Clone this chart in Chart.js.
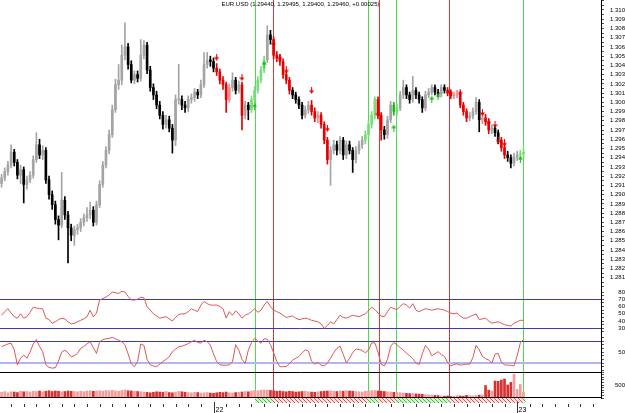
<!DOCTYPE html>
<html><head><meta charset="utf-8"><title>EUR.USD</title>
<script src="https://cdn.jsdelivr.net/npm/chart.js@4.4.1/dist/chart.umd.min.js"></script>
<style>
html,body{margin:0;padding:0;background:#fff;overflow:hidden}
#wrap{position:relative;width:625px;height:413px;background:#fff}
.pane{position:absolute;left:0;width:625px}
#title{position:absolute;left:0;top:1px;width:601px;text-align:center;font-family:"Liberation Sans",Arial,sans-serif;font-size:6px;line-height:7px;color:#000;white-space:nowrap;z-index:5}
</style></head><body>
<div id="wrap">
 <div class="pane" style="top:0;height:291px"><canvas id="cPrice"></canvas></div>
 <div class="pane" style="top:286px;height:49px"><canvas id="cRsi"></canvas></div>
 <div class="pane" style="top:335px;height:37px"><canvas id="cSto"></canvas></div>
 <div class="pane" style="top:372px;height:41px"><canvas id="cVol"></canvas></div>
 <div id="title">EUR.USD (1.29440, 1.29495, 1.29400, 1.29460, +0.00025)</div>
</div>
<script>
// ---------------- DATA ----------------
const SLOTS = 190;                 // 15-minute slots on the time axis
const START = {day: 21, hour: 7, minute: 15};

const opens = [
1.2912,1.2918,1.2925,1.2932,1.2946,1.2935,1.2921,1.2927,1.2911,1.2916,
1.2921,1.2938,1.2954,1.2943,1.2948,1.2916,1.2900,1.2889,1.2873,1.2867,
1.2894,1.2878,1.2864,1.2856,1.2862,1.2864,1.2870,1.2875,1.2878,1.2883,
1.2870,1.2889,1.2911,1.2932,1.2948,1.2965,1.2992,1.3019,1.3024,1.3051,
1.3060,1.3041,1.3024,1.3030,1.3026,1.3051,1.3062,1.3035,1.3016,1.3008,
1.2997,1.2986,1.2976,1.2981,1.2972,1.2959,1.3003,1.3003,1.2997,1.2994,
1.3003,1.3005,1.3011,1.3008,1.3019,1.3041,1.3046,1.3044,1.3037,1.3033,
1.3024,1.3019,1.3003,1.3016,1.3024,1.3013,1.3019,1.2986,1.2997,1.2992,
1.3003,1.3013,1.3024,1.3035,1.3046,1.3073,1.3068,1.3051,1.3048,1.3044,
1.3030,1.3024,1.3013,1.3008,1.3003,1.2997,1.2986,1.2992,1.2997,1.2990,
1.2983,1.2986,1.2976,1.2959,1.2938,1.2948,1.2954,1.2948,1.2959,1.2943,
1.2954,1.2948,1.2938,1.2948,1.2954,1.2959,1.2965,1.2976,1.2986,1.3003,
1.2986,1.2970,1.2965,1.2981,1.2997,1.2990,1.2994,1.3008,1.3016,1.3008,
1.3003,1.3013,1.3008,1.3003,1.2994,1.3008,1.3011,1.3016,1.3011,1.3009,
1.3016,1.3013,1.3010,1.3007,1.3008,1.3009,1.2997,1.2990,1.2983,1.2985,
1.2990,1.3000,1.2981,1.2983,1.2979,1.2970,1.2972,1.2967,1.2959,1.2951,
1.2943,1.2940,1.2934,1.2941,1.2943,1.2944];

const highs = [
1.2922,1.2929,1.2936,1.2954,1.2949,1.2938,1.2932,1.2930,1.2920,1.2925,
1.2942,1.2967,1.2960,1.2953,1.2951,1.2920,1.2904,1.2893,1.2877,1.2924,
1.2898,1.2882,1.2868,1.2866,1.2868,1.2874,1.2879,1.2886,1.2892,1.2887,
1.2893,1.2915,1.2936,1.2952,1.2970,1.2997,1.3025,1.3041,1.3062,1.3086,
1.3064,1.3045,1.3034,1.3034,1.3068,1.3067,1.3065,1.3039,1.3020,1.3012,
1.3001,1.2990,1.2986,1.2985,1.2976,1.3008,1.3041,1.3007,1.3001,1.3007,
1.3009,1.3015,1.3014,1.3024,1.3054,1.3054,1.3050,1.3048,1.3042,1.3036,
1.3028,1.3022,1.3020,1.3032,1.3027,1.3023,1.3022,1.3001,1.3000,1.3007,
1.3017,1.3028,1.3039,1.3050,1.3083,1.3078,1.3071,1.3055,1.3052,1.3047,
1.3033,1.3027,1.3016,1.3011,1.3006,1.3000,1.2996,1.3001,1.3002,1.2994,
1.2990,1.2989,1.2979,1.2962,1.2952,1.2959,1.2958,1.2963,1.2962,1.2958,
1.2958,1.2951,1.2952,1.2958,1.2963,1.2969,1.2980,1.2990,1.3006,1.3006,
1.2989,1.2974,1.2985,1.3001,1.3000,1.2998,1.3012,1.3024,1.3019,1.3011,
1.3028,1.3016,1.3011,1.3006,1.3012,1.3015,1.3019,1.3019,1.3014,1.3019,
1.3019,1.3016,1.3013,1.3011,1.3013,1.3012,1.3000,1.2993,1.2989,1.2994,
1.3005,1.3003,1.2987,1.2987,1.2982,1.2976,1.2975,1.2970,1.2962,1.2954,
1.2947,1.2943,1.2945,1.2947,1.2948,1.29495];

const lows = [
1.2908,1.2915,1.2921,1.2929,1.2931,1.2917,1.2912,1.2891,1.2906,1.2913,
1.2918,1.2935,1.2939,1.2938,1.2912,1.2895,1.2884,1.2868,1.2851,1.2864,
1.2873,1.2826,1.2850,1.2845,1.2857,1.2860,1.2866,1.2871,1.2874,1.2866,
1.2867,1.2886,1.2908,1.2929,1.2944,1.2962,1.2989,1.3014,1.3019,1.3046,
1.3036,1.3021,1.3020,1.3022,1.3023,1.3047,1.3031,1.3012,1.3003,1.2993,
1.2982,1.2971,1.2972,1.2968,1.2945,1.2953,1.2998,1.2992,1.2989,1.2990,
1.2999,1.3001,1.3004,1.3005,1.3016,1.3037,1.3039,1.3033,1.3029,1.3020,
1.3014,1.2989,1.3000,1.3012,1.3009,1.3010,1.2970,1.2982,1.2981,1.2989,
1.2999,1.3010,1.3021,1.3032,1.3043,1.3063,1.3047,1.3044,1.3040,1.3026,
1.3020,1.3009,1.3004,1.2999,1.2993,1.2982,1.2983,1.2988,1.2986,1.2979,
1.2978,1.2972,1.2955,1.2933,1.2910,1.2944,1.2943,1.2944,1.2938,1.2939,
1.2944,1.2924,1.2934,1.2944,1.2950,1.2955,1.2961,1.2972,1.2982,1.2982,
1.2959,1.2960,1.2961,1.2978,1.2986,1.2986,1.2991,1.3004,1.3004,1.2999,
1.3000,1.3004,1.2999,1.2989,1.2991,1.3005,1.3008,1.3008,1.3006,1.3006,
1.3010,1.3007,1.3004,1.3004,1.3005,1.2994,1.2986,1.2979,1.2980,1.2982,
1.2987,1.2968,1.2977,1.2975,1.2966,1.2966,1.2963,1.2955,1.2947,1.2939,
1.2936,1.2929,1.2931,1.2937,1.2938,1.2940];

const closes = [
1.2918,1.2925,1.2932,1.2946,1.2935,1.2921,1.2927,1.2911,1.2916,1.2921,
1.2938,1.2954,1.2943,1.2948,1.2916,1.2900,1.2889,1.2873,1.2867,1.2894,
1.2878,1.2864,1.2856,1.2862,1.2864,1.2870,1.2875,1.2878,1.2883,1.2870,
1.2889,1.2911,1.2932,1.2948,1.2965,1.2992,1.3019,1.3024,1.3051,1.3060,
1.3041,1.3024,1.3030,1.3026,1.3051,1.3062,1.3035,1.3016,1.3008,1.2997,
1.2986,1.2976,1.2981,1.2972,1.2959,1.3003,1.3003,1.2997,1.2994,1.3003,
1.3005,1.3011,1.3008,1.3019,1.3041,1.3046,1.3044,1.3037,1.3033,1.3024,
1.3019,1.3003,1.3016,1.3024,1.3013,1.3019,1.2986,1.2997,1.2992,1.3003,
1.3013,1.3024,1.3035,1.3046,1.3073,1.3068,1.3051,1.3048,1.3044,1.3030,
1.3024,1.3013,1.3008,1.3003,1.2997,1.2986,1.2992,1.2997,1.2990,1.2983,
1.2986,1.2976,1.2959,1.2938,1.2948,1.2954,1.2948,1.2959,1.2943,1.2954,
1.2948,1.2938,1.2948,1.2954,1.2959,1.2965,1.2976,1.2986,1.3003,1.2986,
1.2970,1.2965,1.2981,1.2997,1.2990,1.2994,1.3008,1.3016,1.3008,1.3003,
1.3013,1.3008,1.3003,1.2994,1.3008,1.3011,1.3016,1.3011,1.3009,1.3016,
1.3013,1.3010,1.3007,1.3008,1.3009,1.2997,1.2990,1.2983,1.2985,1.2990,
1.3000,1.2981,1.2983,1.2979,1.2970,1.2972,1.2967,1.2959,1.2951,1.2943,
1.2940,1.2934,1.2941,1.2943,1.29435,1.2946];

const rsi = [
48,53,57,51,46,44,50,44,46,52,
59,58,57,57,44,42,37,39,42,44,
43,39,36,37,39,41,43,46,55,46,
51,69,71,73,76,80,79,78,81,80,
74,69,69,70,73,72,60,55,50,47,
44,45,46,43,40,45,49,50,50,53,
57,55,53,62,67,64,62,62,62,60,
57,44,53,48,54,50,44,48,50,53,
57,52,55,62,67,60,55,53,51,48,
45,46,47,44,42,43,44,43,41,40,
39,36,30,34,39,36,42,48,45,44,
46,48,47,46,48,50,54,59,56,51,
47,46,53,59,57,56,60,64,62,58,
64,55,53,55,57,56,55,56,57,56,
55,53,51,50,51,47,44,44,46,48,
50,42,43,44,40,37,38,39,37,35,
34,33,37,39,41,41];

const stoch = [
65,68,72,74,56,15,33,42,33,50,
72,84,65,51,15,8,6,7,25,50,
55,48,37,40,46,60,65,72,78,62,
46,78,84,86,87,90,86,82,78,70,
45,18,10,24,72,68,30,15,12,10,
17,24,30,37,51,58,64,66,69,73,
78,82,76,74,82,78,69,45,24,15,
14,14,15,23,70,55,30,19,55,75,
87,80,74,86,85,70,48,24,10,10,
10,18,28,33,38,47,56,53,25,17,
22,14,12,20,33,48,60,66,44,20,
33,48,58,57,54,48,55,75,75,50,
17,12,30,65,76,70,62,55,47,40,
32,20,16,45,68,58,40,45,51,43,
38,22,12,16,18,14,16,17,17,35,
68,56,38,32,28,20,44,46,22,15,
14,14,12,40,75,84];

const volume = [
220,250,200,240,230,210,260,240,250,230,
260,250,270,240,260,280,250,270,260,240,
250,270,260,250,240,260,250,270,280,260,
270,280,260,290,280,300,270,260,290,310,
280,270,260,250,240,230,220,200,220,240,
230,220,250,210,200,230,250,240,220,210,
200,220,210,190,200,210,190,180,200,220,
210,230,200,190,210,220,230,250,240,270,
290,280,300,310,300,290,280,260,270,250,
240,260,250,230,240,250,260,240,230,220,
240,250,260,270,280,260,250,270,260,280,
270,260,250,240,230,260,270,280,290,270,
260,250,240,230,220,210,200,190,180,170,
170,160,150,140,130,120,110,100,90,80,
70,80,60,70,90,80,70,100,90,80,
100,110,120,480,300,270,650,640,690,730,
500,600,910,330,520,230];

// signal regimes (bar index ranges) and signal markers
const sellZones = [[68,72],[76,76],[86,91],[98,103],[119,120],[141,147],[152,154],[158,159]];
const buyZones  = [[79,83],[115,118],[124,125],[164,165]];
const sellArrowBars   = [68,76,86,88,90,98,103,119,142,145,152,154,156,157,159];
const sellArrowPrices = [1.3049,1.3027,1.3064,1.3049,1.3035,1.3013,1.2972,1.2988,1.3011,1.3011,1.2989,1.2979,1.2976,1.2959,1.2956];
const buyArrowBars    = [80,83,124,136,138,164];
const buyArrowPrices  = [1.2995,1.3041,1.2972,1.3003,1.3006,1.2938];
// signal lines: bar position and direction
const signalAt   = [80.1, 85.8, 115.8, 119.2, 124.6, 141.6, 164.8];
const signalType = ['buy','sell','buy','sell','buy','sell','buy'];

// time categories
const timeLabels = [];
for (let i = 0; i < SLOTS; i++) {
  const m = START.hour*60 + START.minute + 15*i;
  const d = START.day + Math.floor(m/1440), mm = m % 1440;
  timeLabels.push(d + ' ' + String(Math.floor(mm/60)).padStart(2,'0') + ':' + String(mm%60).padStart(2,'0'));
}

// ---------------- STYLE ----------------
const FONT = 'Liberation Sans';
const palette = {'': {up:'#a4a4a4', down:'#000000'}, s:{up:'#f08c8c', down:'#e80000'}, b:{up:'#78dc78', down:'#10c010'}};
function zoneOf(i){
  for (const [a,b] of sellZones) if (i>=a && i<=b) return 's';
  for (const [a,b] of buyZones) if (i>=a && i<=b) return 'b';
  return '';
}
function candleColor(i){ const z = zoneOf(i); return closes[i] >= opens[i] ? palette[z].up : palette[z].down; }
const SIG_COL = {buy:'#4cdc4c', sell:'#d43c3c'};
const LEVEL_BLUE = '#3c3cac';

function arrowImage(color, up){
  const c = document.createElement('canvas'); c.width = 5; c.height = 7;
  const g = c.getContext('2d'); g.fillStyle = color;
  if (up) { g.beginPath(); g.moveTo(2.5,0); g.lineTo(5,3.5); g.lineTo(0,3.5); g.closePath(); g.fill(); g.fillRect(2,3,1,4); }
  else { g.fillRect(2,0,1,4); g.beginPath(); g.moveTo(0,3.5); g.lineTo(5,3.5); g.lineTo(2.5,7); g.closePath(); g.fill(); }
  return c;
}
function sparse(bars, vals){ const a = new Array(closes.length).fill(null); bars.forEach((b,k)=>{ a[b] = vals[k]; }); return a; }

function xScale(){ return {type:'category', labels: timeLabels, display:false, offset:true, grid:{display:false}}; }
function rightAxis(min, max, step, labelFn, pad){
  return {type:'linear', position:'right', min, max,
    afterBuildTicks(s){ s.ticks = s.ticks.filter(t => Math.abs(t.value/step - Math.round(t.value/step)) < 1e-6); },
    afterFit(s){ s.width = 24; s.paddingTop = 0; s.paddingBottom = 0; },
    border:{display:true, color:'#000', width:1},
    grid:{display:true, drawOnChartArea:false, drawTicks:true, tickLength:3, tickColor:'#555', tickWidth:1},
    ticks:{stepSize: step, includeBounds:false, autoSkip:false, padding: pad, crossAlign:'far', color:'#000',
      font:{family: FONT, size:6}, callback: labelFn, maxRotation:0, minRotation:0}};
}
function strokeLine(ctx, color, width, x0, y0, x1, y1){
  ctx.save(); ctx.globalAlpha = 1; ctx.setLineDash([]); ctx.strokeStyle = color; ctx.lineWidth = width;
  ctx.beginPath(); ctx.moveTo(x0, y0); ctx.lineTo(x1, y1); ctx.stroke(); ctx.restore();
}
const signalPlugin = {id:'signals', beforeDatasetsDraw(chart){
  const {ctx, chartArea:ca, scales:{x}} = chart;
  signalAt.forEach((v,k)=>{ const px = Math.round(x.getPixelForValue(v)) + 0.5;
    strokeLine(ctx, SIG_COL[signalType[k]], 1, px, ca.top, px, ca.bottom); });
}};
const hlinePlugin = {id:'hlines', beforeDatasetsDraw(chart, args, opts){
  const {ctx, chartArea:ca, scales:{y}} = chart;
  (opts.lines||[]).forEach(l=>{ const py = Math.round(y.getPixelForValue(l.value)) + (l.width%2 ? 0.5 : 0);
    strokeLine(ctx, l.color, l.width, ca.left, py, ca.right, py); });
}};
function hatch(color){
  const c = document.createElement('canvas'); c.width = 4; c.height = 4;
  const g = c.getContext('2d'); g.strokeStyle = color; g.lineWidth = 1;
  g.beginPath(); g.moveTo(0,0); g.lineTo(4,4); g.stroke();
  return c;
}
const timeAxisPlugin = {id:'timeAxis', afterDraw(chart){
  const {ctx, chartArea:ca, scales:{x}} = chart;
  strokeLine(ctx, '#000', 1, ca.left, ca.top+0.5, ca.right, ca.top+0.5);
  strokeLine(ctx, '#000', 1, ca.left, ca.bottom-0.5, ca.right, ca.bottom-0.5);
  ctx.save();
  // regime band
  const pats = {buy: ctx.createPattern(hatch('#3cc03c'),'repeat'), sell: ctx.createPattern(hatch('#e05050'),'repeat')};
  signalAt.forEach((v,k)=>{
    const x0 = x.getPixelForValue(v);
    const x1 = k+1 < signalAt.length ? x.getPixelForValue(signalAt[k+1]) : x.getPixelForValue(closes.length-1) + 2;
    ctx.fillStyle = pats[signalType[k]]; ctx.fillRect(x0, ca.bottom, x1-x0, 5);
    ctx.fillStyle = signalType[k]==='buy' ? 'rgba(60,192,60,0.2)' : 'rgba(224,80,80,0.15)'; ctx.fillRect(x0, ca.bottom, x1-x0, 5);
  });
  ctx.restore();
  // hour ticks and day marks
  ctx.save();
  ctx.fillStyle = '#000'; ctx.font = '7px "' + FONT + '"'; ctx.textBaseline = 'alphabetic';
  timeLabels.forEach((lab,i)=>{
    const px = Math.round(x.getPixelForValue(i)) + 0.5;
    if (lab.endsWith('00:00')) {
      strokeLine(ctx, '#333', 1, px, ca.bottom+4, px, ca.bottom+15);
      ctx.fillText(lab.slice(0,2), px+1, ca.bottom+14);
    } else if (lab.endsWith(':00')) {
      strokeLine(ctx, '#333', 1, px, ca.bottom+6, px, ca.bottom+9);
    }
  });
  ctx.restore();
}};

const baseOpts = (extra) => Object.assign({animation:false, responsive:true, maintainAspectRatio:false,
  layout:{padding:0, autoPadding:false}, events:[]}, extra);

// ---------------- PRICE ----------------
new Chart(document.getElementById('cPrice'), {
  type:'bar',
  data:{labels: timeLabels, datasets:[
    {label:'wick', data: lows.map((l,i)=>[l, highs[i]]), backgroundColor: c=>candleColor(c.dataIndex), barThickness:1, grouped:false, order:3},
    {label:'body', data: opens.map((o,i)=>[o, closes[i]]), backgroundColor: c=>candleColor(c.dataIndex), barThickness:2, minBarLength:1, grouped:false, order:2},
    {type:'line', label:'sell', data: sparse(sellArrowBars, sellArrowPrices), showLine:false, pointStyle: arrowImage('#e00000', false), pointRadius:3, order:1},
    {type:'line', label:'buy', data: sparse(buyArrowBars, buyArrowPrices), showLine:false, pointStyle: arrowImage('#10c010', true), pointRadius:3, order:1}
  ]},
  options: baseOpts({plugins:{legend:{display:false}, tooltip:{enabled:false}},
    scales:{x: xScale(), y: rightAxis(1.279559, 1.311083, 0.0005,
      v => { const k = Math.round(v*1000); return (Math.abs(v*1000-k) < 1e-6 && k>=1281 && k<=1310) ? (k/1000).toFixed(3) : ''; }, 3)}}),
  plugins:[signalPlugin]
});

// ---------------- RSI ----------------
new Chart(document.getElementById('cRsi'), {
  type:'line',
  data:{labels: timeLabels, datasets:[{label:'RSI', data: rsi, borderColor:'#e05656', borderWidth:1, pointRadius:0, tension:0}]},
  options: baseOpts({layout:{padding:{top:5, bottom:0, left:0, right:0}, autoPadding:false},
    plugins:{legend:{display:false}, tooltip:{enabled:false}, hlines:{lines:[{value:70,color:LEVEL_BLUE,width:1},{value:30,color:LEVEL_BLUE,width:1}]}},
    scales:{x: xScale(), y: rightAxis(20.8, 81.4, 5, v => { const k = Math.round(v); return (k%10===0 && k>=30 && k<=80) ? String(k) : ''; }, 11)}}),
  plugins:[signalPlugin, hlinePlugin]
});

// ---------------- STOCHASTIC ----------------
new Chart(document.getElementById('cSto'), {
  type:'line',
  data:{labels: timeLabels, datasets:[{label:'Stoch', data: stoch, borderColor:'#e05656', borderWidth:1, pointRadius:0, tension:0}]},
  options: baseOpts({plugins:{legend:{display:false}, tooltip:{enabled:false}, hlines:{lines:[{value:80,color:LEVEL_BLUE,width:1},{value:20,color:'#b4b4f0',width:2}]}},
    scales:{x: xScale(), y: rightAxis(-4.5, 96.4, 10, v => Math.round(v)===50 ? '50' : '', 11)}}),
  plugins:[signalPlugin, hlinePlugin]
});

// ---------------- VOLUME ----------------
new Chart(document.getElementById('cVol'), {
  type:'bar',
  data:{labels: timeLabels, datasets:[{label:'Volume', data: volume, barThickness:2, grouped:false,
    backgroundColor: c => closes[c.dataIndex] >= opens[c.dataIndex] ? '#f49c9c' : '#d83030'}]},
  options: baseOpts({layout:{padding:{top:0, bottom:15, left:0, right:0}, autoPadding:false},
    plugins:{legend:{display:false}, tooltip:{enabled:false}},
    scales:{x: xScale(), y: rightAxis(0, 1000, 100, v => Math.round(v)===500 ? '500' : '', 8)}}),
  plugins:[signalPlugin, timeAxisPlugin]
});
</script></body></html>
